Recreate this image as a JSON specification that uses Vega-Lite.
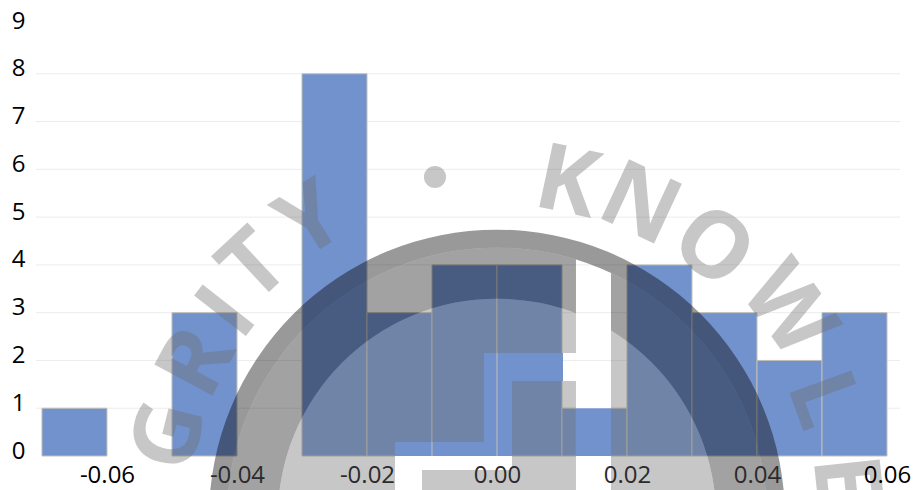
{
  "$schema": "https://vega.github.io/schema/vega-lite/v6.json",
  "width": 864,
  "height": 430,
  "autosize": {"type": "none"},
  "padding": {"left": 36, "top": 26, "right": 15, "bottom": 34},
  "background": "white",
  "config": {"view": {"stroke": null}},
  "datasets": {
    "bins": [
      {"x": -0.07, "x2": -0.06, "y": 1},
      {"x": -0.06, "x2": -0.05, "y": 0},
      {"x": -0.05, "x2": -0.04, "y": 3},
      {"x": -0.04, "x2": -0.03, "y": 0},
      {"x": -0.03, "x2": -0.02, "y": 8},
      {"x": -0.02, "x2": -0.01, "y": 3},
      {"x": -0.01, "x2": 0.0, "y": 4},
      {"x": 0.0, "x2": 0.01, "y": 4},
      {"x": 0.01, "x2": 0.02, "y": 1},
      {"x": 0.02, "x2": 0.03, "y": 4},
      {"x": 0.03, "x2": 0.04, "y": 3},
      {"x": 0.04, "x2": 0.05, "y": 2},
      {"x": 0.05, "x2": 0.06, "y": 3}
    ],
    "gridlines": [
      {"x": -0.07092, "x2": 0.062, "y": 1},
      {"x": -0.07092, "x2": 0.062, "y": 2},
      {"x": -0.07092, "x2": 0.062, "y": 3},
      {"x": -0.07092, "x2": 0.062, "y": 4},
      {"x": -0.07092, "x2": 0.062, "y": 5},
      {"x": -0.07092, "x2": 0.062, "y": 6},
      {"x": -0.07092, "x2": 0.062, "y": 7},
      {"x": -0.07092, "x2": 0.062, "y": 8}
    ],
    "sealCentre": [{"x": 0, "y": -1.29}],
    "sealGapWhite": [
      {"x": -0.01569, "x2": 0.00231, "y": 0, "y2": -0.293},
      {"x": -0.01569, "x2": -0.01154, "y": -0.293, "y2": -0.72},
      {"x": 0.01015, "x2": 0.01215, "y": 1.57, "y2": 2.156},
      {"x": 0.01215, "x2": 0.01754, "y": -0.72, "y2": 4.311}
    ],
    "sealGapBlue": [
      {"x": -0.01569, "x2": -0.002, "y": 0, "y2": 0.293},
      {"x": -0.002, "x2": 0.00231, "y": 0, "y2": 2.156},
      {"x": 0.00231, "x2": 0.01015, "y": 1.57, "y2": 2.156},
      {"x": 0.01215, "x2": 0.01754, "y": 0, "y2": 1}
    ],
    "gapGrid": [
      {"x": 0.01015, "x2": 0.01754, "y": 2},
      {"x": 0.01215, "x2": 0.01754, "y": 3},
      {"x": 0.01215, "x2": 0.01754, "y": 4}
    ],
    "gapEdges": [
      {"x": -0.01, "x2": -0.01, "y": 0, "y2": 0.293},
      {"x": 0.0, "x2": 0.0, "y": 0, "y2": 2.156}
    ],
    "sealLetters": [
      {"letter": "E", "x": -0.05246, "y": -1.34, "tilt": -88},
      {"letter": "G", "x": -0.05015, "y": 0.42, "tilt": -76},
      {"letter": "R", "x": -0.046, "y": 1.95, "tilt": -62},
      {"letter": "I", "x": -0.04138, "y": 2.99, "tilt": -52},
      {"letter": "T", "x": -0.03723, "y": 3.96, "tilt": -43},
      {"letter": "Y", "x": -0.02862, "y": 4.9, "tilt": -32},
      {"letter": "K", "x": 0.01077, "y": 5.69, "tilt": 12},
      {"letter": "N", "x": 0.02192, "y": 5.24, "tilt": 25},
      {"letter": "O", "x": 0.03308, "y": 4.35, "tilt": 38},
      {"letter": "W", "x": 0.04462, "y": 3.05, "tilt": 54},
      {"letter": "L", "x": 0.05, "y": 1.17, "tilt": 70},
      {"letter": "E", "x": 0.05338, "y": -0.52, "tilt": 84}
    ],
    "sealDot": [{"x": -0.00954, "y": 5.84}]
  },
  "encoding": {
    "x": {
      "field": "x",
      "type": "quantitative",
      "scale": {"domain": [-0.07092, 0.062], "nice": false, "zero": false},
      "axis": {
        "title": null,
        "values": [-0.06, -0.04, -0.02, 0, 0.02, 0.04, 0.06],
        "labelExpr": "replace(format(datum.value, '.2f'), '\u2212', '-')",
        "grid": false,
        "domain": false,
        "ticks": false,
        "labelFont": "Open Sans",
        "labelFontSize": 24,
        "labelColor": {"expr": "datum.value > -0.05 && datum.value < 0.05 ? '#2b2b2b' : '#000000'"},
        "labelPadding": 7,
        "labelAngle": 0,
        "labelFlush": false,
        "labelOverlap": false,
        "zindex": 1
      }
    },
    "y": {
      "field": "y",
      "type": "quantitative",
      "scale": {"domain": [0, 9], "nice": false, "zero": false},
      "axis": {
        "title": null,
        "values": [0, 1, 2, 3, 4, 5, 6, 7, 8, 9],
        "format": "d",
        "grid": false,
        "domain": false,
        "ticks": false,
        "labelFont": "Open Sans",
        "labelFontSize": 24,
        "labelColor": "#000000",
        "labelPadding": 11,
        "labelOffset": -5,
        "labelFlush": false,
        "labelOverlap": false
      }
    }
  },
  "layer": [
    {
      "data": {"name": "gridlines"},
      "mark": {"type": "rule", "stroke": "#ececec", "strokeWidth": 1},
      "encoding": {"x2": {"field": "x2"}}
    },
    {
      "data": {"name": "bins"},
      "transform": [{"filter": "datum.y > 0"}],
      "mark": {"type": "rect", "fill": "#7292cd", "stroke": "#c3bfb6", "strokeWidth": 1},
      "encoding": {"x2": {"field": "x2"}, "y2": {"datum": 0}}
    },
    {
      "data": {"name": "sealCentre"},
      "mark": {"type": "arc", "innerRadius": 219, "outerRadius": 270, "theta": 0, "theta2": 6.2832, "fill": "#000000", "fillOpacity": 0.365}
    },
    {
      "data": {"name": "sealCentre"},
      "mark": {"type": "arc", "innerRadius": 0, "outerRadius": 219, "theta": 0, "theta2": 6.2832, "fill": "#6d6d6d", "fillOpacity": 0.385}
    },
    {
      "data": {"name": "sealGapWhite"},
      "mark": {"type": "rect", "fill": "#ffffff"},
      "encoding": {"x2": {"field": "x2"}, "y2": {"field": "y2"}}
    },
    {
      "data": {"name": "gapGrid"},
      "mark": {"type": "rule", "stroke": "#ececec", "strokeWidth": 1},
      "encoding": {"x2": {"field": "x2"}}
    },
    {
      "data": {"name": "sealGapBlue"},
      "mark": {"type": "rect", "fill": "#7292cd"},
      "encoding": {"x2": {"field": "x2"}, "y2": {"field": "y2"}}
    },
    {
      "data": {"name": "gapEdges"},
      "mark": {"type": "rule", "stroke": "#c3bfb6", "strokeWidth": 1},
      "encoding": {"y2": {"field": "y2"}}
    },
    {
      "data": {"name": "sealCentre"},
      "mark": {"type": "arc", "innerRadius": 270, "outerRadius": 288, "theta": 0, "theta2": 6.2832, "fill": "#000000", "fillOpacity": 0.4}
    },
    {
      "data": {"name": "sealLetters"},
      "mark": {"type": "text", "font": "Open Sans", "fontWeight": 700, "fontSize": 92, "align": "center", "baseline": "middle", "fill": "#6d6d6d", "fillOpacity": 0.385},
      "encoding": {
        "text": {"field": "letter"},
        "angle": {"field": "tilt", "type": "quantitative", "scale": null}
      }
    },
    {
      "data": {"name": "sealDot"},
      "mark": {"type": "point", "shape": "circle", "filled": true, "size": 490, "fill": "#6d6d6d", "fillOpacity": 0.385, "strokeWidth": 0}
    }
  ]
}
